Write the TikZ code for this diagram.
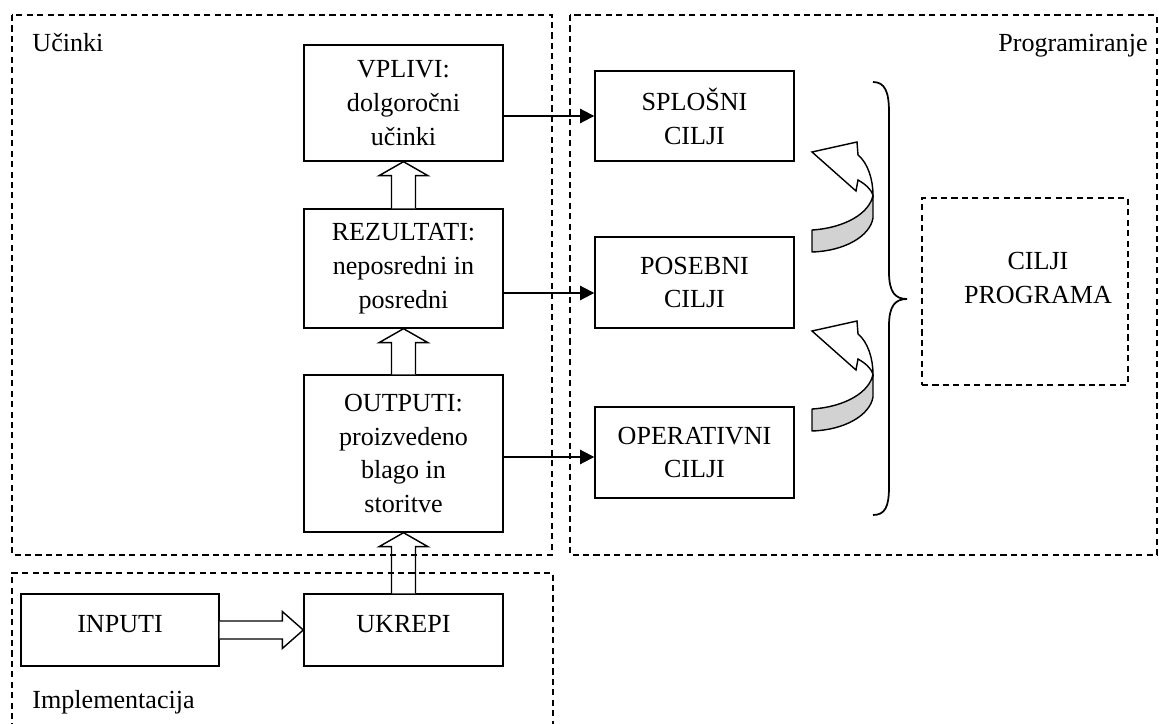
\documentclass[tikz,border=0pt]{standalone}
\usepackage{fontspec}
\setmainfont{Liberation Serif}
\usetikzlibrary{arrows.meta,calc}
\newcommand\vblk[2]{\draw[blk] ($(#1)+(-12,0)$) -- ($(#2)+(-12,14)$) -- ($(#2)+(-24.5,14)$) -- (#2) -- ($(#2)+(24.5,14)$) -- ($(#2)+(12,14)$) -- ($(#1)+(12,0)$);}
\begin{document}
\begin{tikzpicture}[x=0.46pt,y=-0.46pt,
  every node/.style={font=\fontsize{12}{15.6}\selectfont, inner sep=0pt},
  box/.style={draw, line width=0.65pt, align=center, minimum width=91.54pt},
  frame/.style={draw, line width=0.65pt, dash pattern=on 2.8pt off 2pt},
  arr/.style={line width=0.9pt, -{Triangle[length=6.5pt,width=6.5pt]}},
  blk/.style={draw, fill=white, line width=0.65pt, line join=miter},
  curv/.pic={
    \path[draw, fill=gray!35, line width=0.65pt, line join=round] (0,78) .. controls (33,76) and (58,61) .. (61,43) -- (61,66) .. controls (58,84) and (33,99) .. (0,100) -- cycle;
    \path[draw, fill=white, line width=0.65pt, line join=miter] (0,0) -- (45,-10) -- (46,3) .. controls (56,11) and (61,28) .. (61,43) .. controls (59,37) and (53,32) .. (46,28) -- (44,39) -- cycle;
  }]
\useasboundingbox (0,0) rectangle (1159,724);

% boxes
\node[box, minimum height=53.36pt] (vpl) at (403.5,103) {VPLIVI:\\dolgoročni\\učinki};
\node[box, minimum height=54.74pt] (rez) at (403.5,268.5) {REZULTATI:\\neposredni in\\posredni};
\node[box, minimum height=72.22pt] (out) at (403.5,453.5) {OUTPUTI:\\proizvedeno\\blago in\\storitve};
\node[box, minimum height=33.12pt, minimum width=91.08pt] (inp) at (120,630) {};
\node[box, minimum height=33.12pt] (ukr) at (403.5,630) {};
\node[anchor=base] (inpt) at (120,632) {INPUTI};
\node[anchor=base] (ukrt) at (403.5,632) {UKREPI};

\node[box, minimum height=41.4pt] (spl) at (694.5,116) {SPLOŠNI\\CILJI};
\node[box, minimum height=41.86pt] (pos) at (694.5,282.5) {POSEBNI\\CILJI};
\node[box, minimum height=41.86pt] (ope) at (694.5,452.5) {OPERATIVNI\\CILJI};

\node[frame, minimum width=94.76pt, minimum height=86.02pt] (cp) at (1025,291.5) {};
\node[align=center] (cpt) at (1038,278) {CILJI\\PROGRAMA};

% thin arrows
\draw[arr] (vpl.east |- spl.center) -- (spl.west);
\draw[arr] (rez.east |- 0,293) -- (pos.west |- 0,293);
\draw[arr] (out.east |- 0,457) -- (ope.west |- 0,457);

% block arrows
\vblk{ukr.north}{out.south}
\vblk{out.north}{rez.south}
\vblk{rez.north}{vpl.south}
\draw[blk] ($(inp.east)+(0,-9)$) -- ($(ukr.west)+(-21,-9)$) -- ($(ukr.west)+(-21,-18.5)$) -- (ukr.west) -- ($(ukr.west)+(-21,18.5)$) -- ($(ukr.west)+(-21,9)$) -- ($(inp.east)+(0,9)$);

% curved arrows
\pic (c1) at (812,152) {curv};
\pic (c2) at (812,331) {curv};

% brace
\draw[line width=0.8pt] (873,82) .. controls (885,82) and (889,92) .. (889,112) -- (889,272) .. controls (889,292) and (895,299) .. (907,299) .. controls (895,299) and (889,306) .. (889,326) -- (889,487) .. controls (889,507) and (885,515) .. (873,515);

% frames
\draw[frame] (12,15) rectangle (552,555);
\draw[frame] (570,15) rectangle (1157,555);
\draw[frame] (12,740) -- (12,573) -- (553,573) -- (553,740);
\node[anchor=base west] (l1) at (32,52) {Učinki};
\node[anchor=base east] (l2) at (1148,52) {Programiranje};
\node[anchor=base west] (l3) at (32,708) {Implementacija};
\end{tikzpicture}
\end{document}
